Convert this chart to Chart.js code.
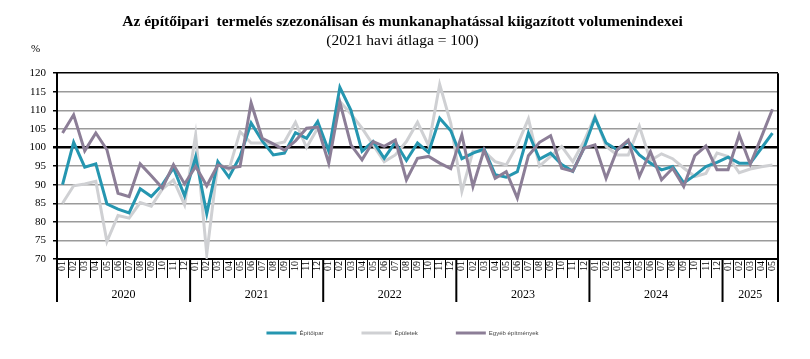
<!DOCTYPE html>
<html><head><meta charset="utf-8">
<script src="https://cdn.jsdelivr.net/npm/chart.js@4/dist/chart.umd.min.js"></script>
<style>html,body{margin:0;padding:0;background:#fff}#wrap{width:810px;height:359px}</style>
</head><body><div id="wrap"><canvas id="c" width="810" height="359"></canvas></div>
<script>
const years = ['2020','2021','2022','2023','2024','2025'];
const monthsPerYear = [12,12,12,12,12,5];
const seriesNames = ['Építőipar','Épületek','Egyéb építmények'];
const epitoipar = [90,101.4,94.7,95.6,84.8,83.4,82.4,88.9,86.8,90,94.5,87,
  97.5,82.2,96.2,92,97.6,106.6,101.8,98,98.5,104,102.5,107,
  99,116.2,110,99,101.6,97.1,101.4,96.5,101.2,98.7,107.9,104.5,
  97,98.5,99.6,92.7,92,93.5,103.9,96.9,98.5,95.4,93.6,99.8,
  108,101.2,99.4,101.6,98,95.8,94,94.9,90.5,92.5,94.9,96,
  97.4,95.8,95.8,99.8,103.9];
const epuletek = [85,89.7,90.2,90.9,74.7,81.7,81,85.2,84.2,88.8,91.3,84.6,
  103.4,71.3,95.8,94,104.3,101.2,101.2,100.8,101.5,106.8,100,105.2,
  99.4,112.4,109,105.2,100.7,96.2,98,101.6,106.8,100.5,117,106.5,
  88.2,99,99,96.2,95.3,100.7,107.7,95,97.6,100.3,96.2,101.6,
  108.4,100.3,98,98,105.7,96.5,98.3,97,94.5,92.2,93,98.5,
  97.6,93.2,94.2,94.8,95.3];
const egyeb = [103.9,108.8,99.1,103.9,99.4,87.7,86.8,95.6,92.4,89.1,95.4,90.2,
  94.9,89.7,95.3,94.4,94.9,112,102.5,101,99.3,101.8,105.2,105.5,
  95.8,112.2,100.7,96.7,101.6,100.3,102,91.3,97.1,97.6,95.8,94.3,
  103.4,89.5,99.3,91.7,93.5,86.4,97.8,101.4,103.2,94.4,93.6,99.8,
  100.7,91.7,99.4,102,92.2,98.9,91.3,94.4,89.5,97.8,100.4,94,
  94,103.4,95.5,102.8,110.3];
const yMin = 70, yMax = 120, yStep = 5;

const monthLabels = [];
monthsPerYear.forEach(n => { for (let m = 1; m <= n; m++) monthLabels.push(String(m).padStart(2,'0')); });

const serif = "'Liberation Serif', 'Times New Roman', serif";

const decor = {
  id: 'decor',
  afterDraw(chart) {
    const x = chart.scales.x, a = chart.chartArea, ctx = chart.ctx;
    const step = x.getPixelForValue(1) - x.getPixelForValue(0);
    ctx.save();
    ctx.strokeStyle = '#000'; ctx.lineWidth = 2;
    ctx.beginPath(); ctx.moveTo(a.right, a.top); ctx.lineTo(a.right, a.bottom); ctx.stroke();
    ctx.fillStyle = '#000';
    ctx.font = '12px ' + serif; ctx.textAlign = 'center'; ctx.textBaseline = 'middle';
    let start = 0;
    years.forEach((yr, k) => {
      const n = monthsPerYear[k];
      const x0 = x.getPixelForValue(start) - step/2;
      const x1 = x.getPixelForValue(start + n - 1) + step/2;
      ctx.beginPath(); ctx.moveTo(x0, a.bottom); ctx.lineTo(x0, a.bottom + 43); ctx.stroke();
      if (k === years.length - 1) { ctx.beginPath(); ctx.moveTo(x1, a.bottom); ctx.lineTo(x1, a.bottom + 43); ctx.stroke(); }
      ctx.fillText(yr, (x0 + x1)/2, a.bottom + 36);
      start += n;
    });
    ctx.font = '11px ' + serif; ctx.textAlign = 'left';
    ctx.fillText('%', a.left - 26, a.top - 24);
    ctx.restore();
  }
};

new Chart(document.getElementById('c'), {
  type: 'line',
  data: {
    labels: monthLabels,
    datasets: [
      {label: seriesNames[0], data: epitoipar, borderColor: '#2596b0', backgroundColor: '#2596b0', borderWidth: 3, pointRadius: 0, tension: 0, order: 1},
      {label: seriesNames[1], data: epuletek, borderColor: '#cfd0d3', backgroundColor: '#cfd0d3', borderWidth: 3, pointRadius: 0, tension: 0, order: 2},
      {label: seriesNames[2], data: egyeb, borderColor: '#8c7e97', backgroundColor: '#8c7e97', borderWidth: 3, pointRadius: 0, tension: 0, order: 0}
    ]
  },
  options: {
    responsive: false, animation: false,
    layout: {padding: {left: 27, right: 32, top: 0, bottom: 13}},
    plugins: {
      title: {display: true, text: 'Az építőipari  termelés szezonálisan és munkanaphatással kiigazított volumenindexei',
        color: '#000', font: {family: serif, size: 15.5, weight: 'bold'}, padding: {top: 13, bottom: 0}},
      subtitle: {display: true, text: '(2021 havi átlaga = 100)', color: '#000',
        font: {family: serif, size: 15.5}, padding: {top: 0, bottom: 23}},
      legend: {position: 'bottom', labels: {usePointStyle: true, pointStyle: 'line', pointStyleWidth: 30,
        padding: 38, color: '#444', font: {family: "'Liberation Sans', sans-serif", size: 6},
        sort: (a, b) => a.datasetIndex - b.datasetIndex}},
      tooltip: {enabled: false}
    },
    scales: {
      x: {
        offset: true,
        grid: {display: true, drawOnChartArea: false, offset: true, tickLength: 19, color: '#000', lineWidth: 1},
        border: {display: true, color: '#000', width: 2},
        ticks: {autoSkip: false, minRotation: 90, maxRotation: 90, padding: -17, color: '#000',
          font: {family: serif, size: 10}},
        afterFit: s => { s.height = 33; }
      },
      y: {
        min: yMin, max: yMax,
        ticks: {stepSize: yStep, padding: 7, color: '#000', font: {family: serif, size: 11}},
        grid: {color: c => (c.tick && (c.tick.value === 100 || c.tick.value === 120)) ? '#000' : '#9a9a9a',
          lineWidth: c => (c.tick && c.tick.value === 100) ? 2.5 : 1.5, tickColor: '#000', tickLength: 4},
        border: {display: true, color: '#000', width: 2},
        afterFit: s => { s.width = 30; }
      }
    }
  },
  plugins: [decor]
});
</script></body></html>
